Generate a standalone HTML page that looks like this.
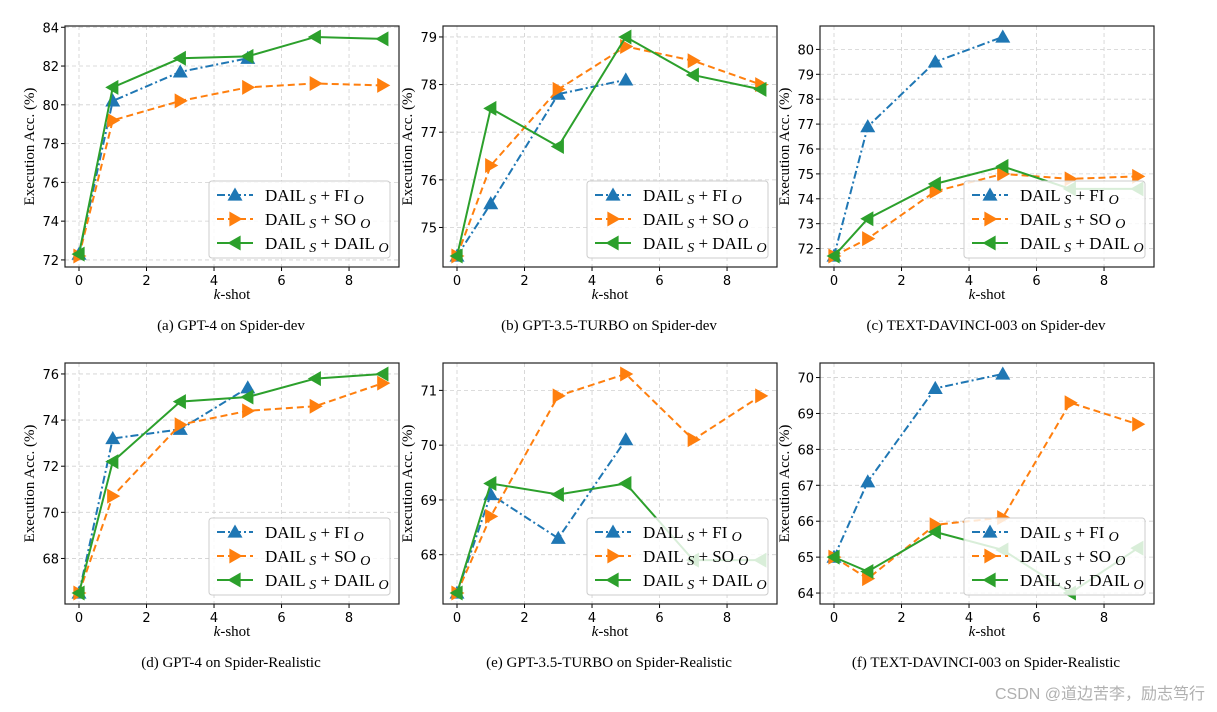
<!DOCTYPE html>
<html><head><meta charset="utf-8"><style>
body{margin:0;background:#fff;}
svg{display:block;}
</style></head><body>
<svg id="fig" width="1217" height="712" xmlns="http://www.w3.org/2000/svg"></svg>
<script>
const xsFull = [0,1,3,5,7,9];
const xsFI = [0,1,3,5];
const captions = ["(a)  GPT-4 on Spider-dev","(b)  GPT-3.5-TURBO on Spider-dev","(c)  TEXT-DAVINCI-003 on Spider-dev","(d)  GPT-4 on Spider-Realistic","(e)  GPT-3.5-TURBO on Spider-Realistic","(f)  TEXT-DAVINCI-003 on Spider-Realistic"];
const fiVals = [[72.3,80.2,81.7,82.4],[74.4,75.5,77.8,78.1],[71.7,76.9,79.5,80.5],[66.5,73.2,73.6,75.4],[67.3,69.1,68.3,70.1],[65.0,67.1,69.7,70.1]];
const soVals = [[72.2,79.2,80.2,80.9,81.1,81.0],[74.4,76.3,77.9,78.8,78.5,78.0],[71.7,72.4,74.3,75.0,74.8,74.9],[66.5,70.7,73.8,74.4,74.6,75.6],[67.3,68.7,70.9,71.3,70.1,70.9],[65.0,64.4,65.9,66.1,69.3,68.7]];
const dailVals = [[72.3,80.9,82.4,82.5,83.5,83.4],[74.4,77.5,76.7,79.0,78.2,77.9],[71.7,73.2,74.6,75.3,74.4,74.4],[66.5,72.2,74.8,75.0,75.8,76.0],[67.3,69.3,69.1,69.3,67.9,67.9],[65.0,64.6,65.7,65.2,64.0,65.25]];
const yTicks = [[72,74,76,78,80,82,84],[75,76,77,78,79],[72,73,74,75,76,77,78,79,80],[68,70,72,74,76],[68,69,70,71],[64,65,66,67,68,69,70]];
const xTicks = [0,2,4,6,8];

const NS="http://www.w3.org/2000/svg";
const svg=document.getElementById('fig');
function mk(tag,attrs,parent,text){const e=document.createElementNS(NS,tag);for(const k in attrs)e.setAttribute(k,attrs[k]);if(text!==undefined)e.textContent=text;(parent||svg).appendChild(e);return e;}
const lefts=[65,443,820], tops=[26,363];
const W=334,H=241;
const C={fi:'#1f77b4',so:'#ff7f0e',dail:'#2ca02c'};
function marker(g,type,x,y,c){
  const s=7.5;let p;
  if(type==='fi')p=[[x,y-s],[x-s,y+s*0.75],[x+s,y+s*0.75]];
  else if(type==='so')p=[[x+s,y],[x-s*0.75,y-s],[x-s*0.75,y+s]];
  else p=[[x-s,y],[x+s*0.75,y-s],[x+s*0.75,y+s]];
  const m=mk('polygon',{points:p.map(q=>q.join(',')).join(' '),fill:c},g);
  return m;
}
for(let i=0;i<6;i++){
  const L=lefts[i%3],T=tops[Math.floor(i/3)];
  const g=mk('g',{});
  
  
  const all=fiVals[i].concat(soVals[i],dailVals[i]);
  let mn=Math.min(...all),mx=Math.max(...all),r=mx-mn;mn-=r*0.05;mx+=r*0.05;
  const xmin=-0.415,xmax=9.48;
  const X=v=>L+(v-xmin)/(xmax-xmin)*W;
  const Y=v=>T+H-(v-mn)/(mx-mn)*H;
  xTicks.forEach(t=>{const l=mk('line',{x1:X(t),x2:X(t),y1:T,y2:T+H,stroke:'#d0d0d0','stroke-dasharray':'4,3','stroke-width':0.8},g);
    mk('line',{x1:X(t),x2:X(t),y1:T+H,y2:T+H+4,stroke:'#000'},g);
    const tx=mk('text',{x:X(t),y:T+H+18,'text-anchor':'middle','font-family':'DejaVu Sans, sans-serif','font-size':13},g,String(t));});
  yTicks[i].forEach(t=>{const l=mk('line',{x1:L,x2:L+W,y1:Y(t),y2:Y(t),stroke:'#d0d0d0','stroke-dasharray':'4,3','stroke-width':0.8},g);
    mk('line',{x1:L-4,x2:L,y1:Y(t),y2:Y(t),stroke:'#000'},g);
    const tx=mk('text',{x:L-6,y:Y(t)+5,'text-anchor':'end','font-family':'DejaVu Sans, sans-serif','font-size':13},g,String(t));});
  const series=[['fi',xsFI,fiVals[i],'8,3,2,3'],['so',xsFull,soVals[i],'7,4'],['dail',xsFull,dailVals[i],'']];
  series.forEach(([k,xs,vs,d])=>{
    const pl=mk('polyline',{points:xs.map((x,j)=>X(x)+','+Y(vs[j])).join(' '),fill:'none',stroke:C[k],'stroke-width':2,'stroke-dasharray':d},g);
    
    xs.forEach((x,j)=>{const m=marker(g,k,X(x),Y(vs[j]),C[k]);});
  });
  const ax=mk('rect',{x:L,y:T,width:W,height:H,fill:'none',stroke:'#222','stroke-width':1.2},g);
  
  const lg=mk('g',{},g);
  const lx=L+W-190,ly=T+H-86;
  mk('rect',{x:lx,y:ly,width:181,height:77,rx:3,fill:'#fff','fill-opacity':0.82,stroke:'#ccc'},lg);
  const labels=[['fi','FI'],['so','SO'],['dail','DAIL']];
  labels.forEach(([k,lab],j)=>{
    const yy=ly+14+j*24;
    mk('line',{x1:lx+8,x2:lx+44,y1:yy,y2:yy,stroke:C[k],'stroke-width':2,'stroke-dasharray':series[j][3]},lg);
    marker(lg,k,lx+26,yy,C[k]);
    const t=mk('text',{x:lx+56,y:yy+6,'font-family':'Liberation Serif, serif','font-size':17},lg);
    
    t.innerHTML='DAIL <tspan font-style="italic" font-size="14" dy="3">S</tspan><tspan dy="-3"> + '+lab+' </tspan><tspan font-style="italic" font-size="14" dy="3">O</tspan>';
  });
  const xl=mk('text',{x:L+W/2,y:T+H+32,'text-anchor':'middle','font-family':'Liberation Serif, serif','font-size':15},g);
  xl.innerHTML='<tspan font-style="italic">k</tspan>-shot';
  const yl=mk('text',{x:0,y:0,transform:`translate(${L-31},${T+H/2}) rotate(-90)`,'text-anchor':'middle','font-family':'Liberation Serif, serif','font-size':15},g,'Execution Acc. (%)');
  
  const cp=mk('text',{x:L+W/2-1,y:T+H+63,'text-anchor':'middle','font-family':'Liberation Serif, serif','font-size':15},g,captions[i]);
  
}
const wm=mk('text',{x:1205,y:699,'text-anchor':'end','font-family':'Liberation Sans, Noto Sans CJK SC, sans-serif','font-size':16,fill:'#b0b0b0'},svg,'CSDN @道边苦李，励志笃行');

</script>
</body></html>
